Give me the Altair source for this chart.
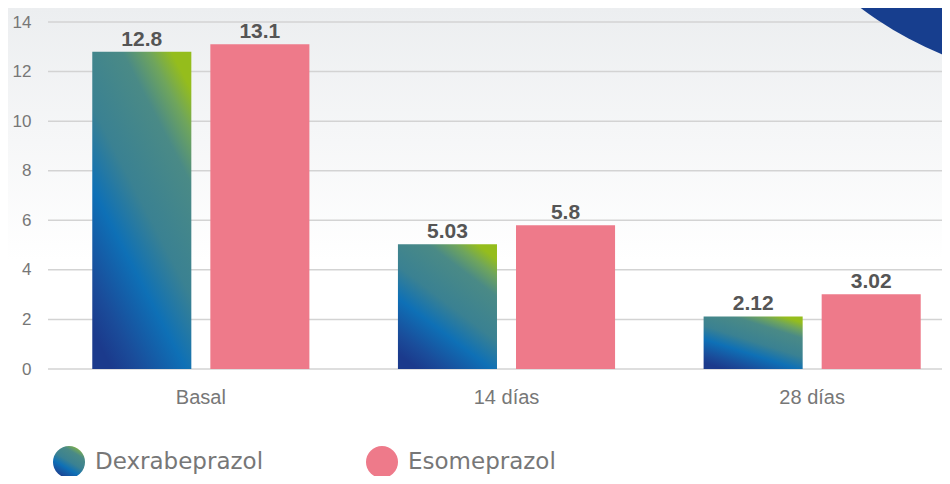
import altair as alt
import pandas as pd

# ---- data ----
categories = ["Basal", "14 días", "28 días"]
series = ["Dexrabeprazol", "Esomeprazol"]
dex_values = [12.8, 5.03, 2.12]
eso_values = [13.1, 5.8, 3.02]
dex_labels = ["12.8", "5.03", "2.12"]
eso_labels = ["13.1", "5.8", "3.02"]
y_ticks = [0, 2, 4, 6, 8, 10, 12, 14]

rows = []
for c, v, t in zip(categories, dex_values, dex_labels):
    rows.append({"grupo": c, "serie": series[0], "valor": v, "texto": t})
for c, v, t in zip(categories, eso_values, eso_labels):
    rows.append({"grupo": c, "serie": series[1], "valor": v, "texto": t})
df = pd.DataFrame(rows)
ticks_df = pd.DataFrame({"valor": y_ticks})
one = pd.DataFrame({"k": [0]})

W, H = 894, 361
YMAX = 14.565
PINK = "#EE7A8A"

dex_gradient = alt.LinearGradient(
    gradient="linear", id="dexgrad",
    x1=0.2, y1=1, x2=0.8, y2=0,
    stops=[
        alt.GradientStop(offset=0, color="#1b3a8c"),
        alt.GradientStop(offset=0.12, color="#1a4c9a"),
        alt.GradientStop(offset=0.33, color="#0e70b6"),
        alt.GradientStop(offset=0.52, color="#3a8192"),
        alt.GradientStop(offset=0.78, color="#4a8a86"),
        alt.GradientStop(offset=0.9, color="#6fa55c"),
        alt.GradientStop(offset=1, color="#95bd1c"),
    ],
)
bg_gradient = alt.LinearGradient(
    gradient="linear", id="bggrad",
    x1=0, y1=0, x2=0, y2=1,
    stops=[
        alt.GradientStop(offset=0, color="#eceef0"),
        alt.GradientStop(offset=0.7, color="#ffffff"),
        alt.GradientStop(offset=1, color="#ffffff"),
    ],
)

x_enc = alt.X(
    "grupo:N", sort=categories,
    scale=alt.Scale(domain=categories, range=[0, 917], paddingInner=0, paddingOuter=0),
    axis=alt.Axis(title=None, labelAngle=0, domain=False, ticks=False,
                  labelFont="Liberation Sans", labelFontSize=20,
                  labelColor="#777777", labelPadding=18, zindex=1),
)
xo_enc = alt.XOffset("serie:N", scale=alt.Scale(domain=series, paddingInner=0.161, paddingOuter=0.375))
y_scale = alt.Scale(domain=[0, YMAX], nice=False)
y_enc = alt.Y(
    "valor:Q", scale=y_scale,
    axis=alt.Axis(title=None, values=y_ticks, domain=False, ticks=False, grid=False,
                  labelFont="Liberation Sans", labelFontSize=17,
                  labelColor="#777777", labelPadding=17, zindex=1),
)

bg = alt.Chart(one).mark_rect(fill=bg_gradient).encode(
    x=alt.value(-40), x2=alt.value(W), y=alt.value(0), y2=alt.value(H)
)

grid = alt.Chart(ticks_df).mark_rule(color="#d3d3d3", strokeWidth=1.5).encode(
    y=alt.Y("valor:Q", scale=y_scale), x=alt.value(0), x2=alt.value(W)
)

arc = alt.Chart(one).mark_point(
    shape="circle", filled=True, size=541696, color="#173e8e", opacity=1, clip=True
).encode(x=alt.value(1034), y=alt.value(-294))

dex_bars = alt.Chart(df).transform_filter(
    alt.datum.serie == series[0]
).mark_bar(fill=dex_gradient).encode(x=x_enc, xOffset=xo_enc, y=y_enc)

eso_bars = alt.Chart(df).transform_filter(
    alt.datum.serie == series[1]
).mark_bar().encode(
    x=x_enc, xOffset=xo_enc, y=y_enc,
    color=alt.Color(
        "serie:N",
        scale=alt.Scale(domain=series, range=["url(#dexgrad)", PINK]),
        legend=alt.Legend(
            orient="none", legendX=5, legendY=438, direction="horizontal",
            title=None, symbolType="circle", symbolSize=1024, symbolStrokeWidth=0,
            symbolOpacity=1, labelFont="DejaVu Sans", labelFontSize=23,
            labelColor="#777777", labelOffset=10, columnPadding=102, padding=0,
            labelLimit=400,
        ),
    ),
)

labels = alt.Chart(df).mark_text(
    font="Liberation Sans", fontWeight="bold", fontSize=21, color="#555555",
    baseline="alphabetic", dy=-6,
).encode(x=x_enc, xOffset=xo_enc, y=y_enc, text="texto:N")

chart = alt.layer(bg, grid, arc, dex_bars, eso_bars, labels).properties(
    width=W, height=H,
    padding={"left": 40, "top": 0, "right": 0, "bottom": 107},
    autosize=alt.AutoSizeParams(type="none"),
    background="white",
).configure_view(stroke=None)

chart.save("out.html", embed_options={"renderer": "svg", "actions": False})
